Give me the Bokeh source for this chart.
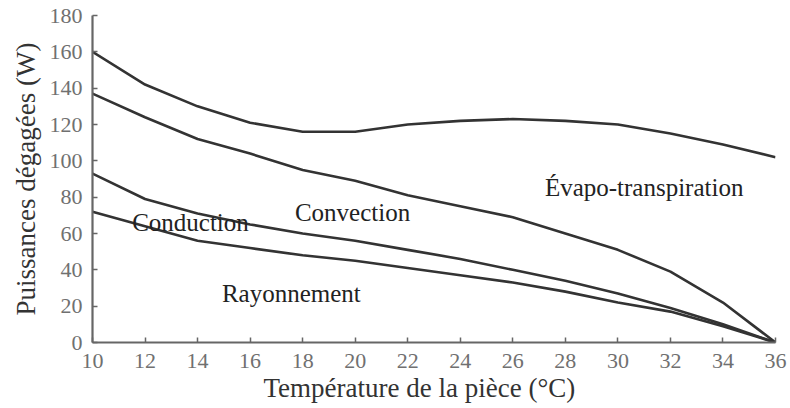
from bokeh.plotting import figure
from bokeh.models import Range1d, FixedTicker, Label, Title
from bokeh.embed import file_html
from bokeh.resources import INLINE

temperature = [10, 12, 14, 16, 18, 20, 22, 24, 26, 28, 30, 32, 34, 36]
total_evapo = [160, 142, 130, 121, 116, 116, 120, 122, 123, 122, 120, 115, 109, 102]
total_convection = [137, 124, 112, 104, 95, 89, 81, 75, 69, 60, 51, 39, 22, 0]
total_conduction = [93, 79, 71, 65, 60, 56, 51, 46, 40, 34, 27, 19, 10, 0]
rayonnement = [72, 64, 56, 52, 48, 45, 41, 37, 33, 28, 22, 17, 9, 0]

x_ticks = [10, 12, 14, 16, 18, 20, 22, 24, 26, 28, 30, 32, 34, 36]
y_ticks = [0, 20, 40, 60, 80, 100, 120, 140, 160, 180]

labels = ["Conduction", "Convection", "Rayonnement", "Évapo-transpiration"]
label_x = [13.73, 19.9, 17.57, 31.0]
label_y = [65.8, 71.3, 27.0, 85.2]

x_title = "Température de la pièce (°C)"
y_title = "Puissances dégagées (W)"

FONT = "'Liberation Serif', 'Times New Roman', serif"

p = figure(width=790, height=408, output_backend="svg", toolbar_location=None,
           x_range=Range1d(10, 36), y_range=Range1d(0, 180),
           min_border_left=92, min_border_right=15, min_border_top=15, min_border_bottom=66)
p.outline_line_color = None
p.xgrid.visible = False
p.ygrid.visible = False
p.background_fill_color = "white"

for series in [total_evapo, total_convection, total_conduction, rayonnement]:
    p.line(temperature, series, line_color="#333333", line_width=2.6)

for ax, ticks in [(p.xaxis[0], x_ticks), (p.yaxis[0], y_ticks)]:
    ax.ticker = FixedTicker(ticks=ticks)
    ax.axis_line_color = "#666666"
    ax.axis_line_width = 2.2
    ax.major_tick_line_color = "#666666"
    ax.major_tick_line_width = 1.5
    ax.major_tick_in = 5
    ax.major_tick_out = 0
    ax.minor_tick_line_color = None
    ax.major_label_text_font = FONT
    ax.major_label_text_font_size = "22px"
    ax.major_label_text_color = "#707070"
    ax.axis_label_text_font = FONT
    ax.axis_label_text_font_size = "27px"
    ax.axis_label_text_font_style = "normal"
    ax.axis_label_text_color = "#333333"

p.yaxis.axis_label = y_title
p.xaxis.major_label_standoff = 11
p.yaxis.major_label_standoff = 10
p.yaxis.axis_label_standoff = 6

# x-axis title, placed slightly left of centre as in the reference
p.add_layout(Title(text=x_title, align="left", offset=171, standoff=0,
                   text_font=FONT, text_font_size="27px", text_font_style="normal",
                   text_color="#333333"), "below")

for t, lx, ly in zip(labels, label_x, label_y):
    p.add_layout(Label(x=lx, y=ly, text=t, text_font=FONT, text_font_size="25px",
                       text_color="#222222", text_align="center", text_baseline="alphabetic"))

open("out.html", "w").write(file_html(p, INLINE))
